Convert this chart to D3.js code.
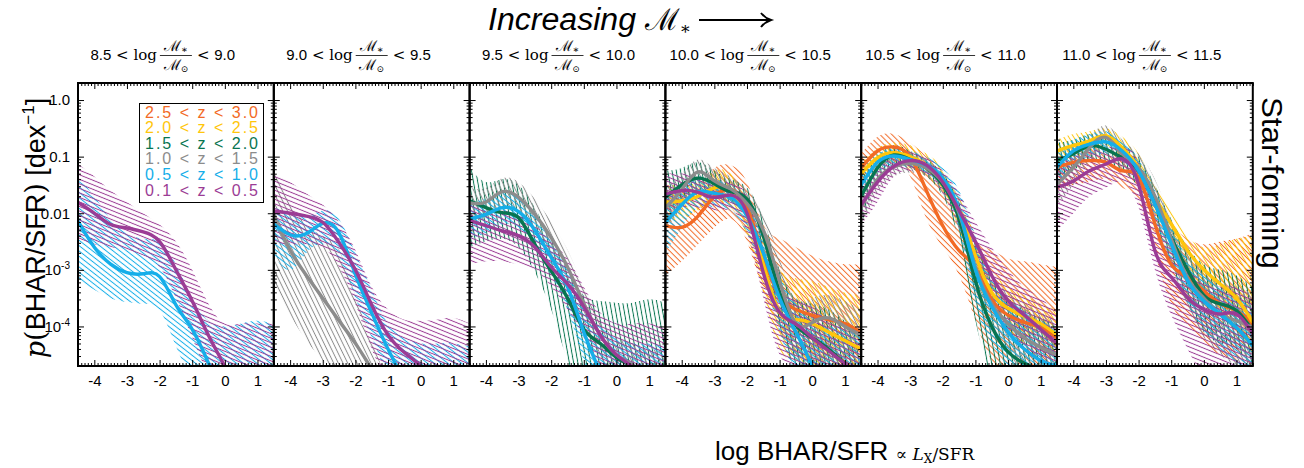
<!DOCTYPE html>
<html lang="en">
<head>
<meta charset="UTF-8">
<script src="https://d3js.org/d3.v7.min.js"></script>
<title>BHAR/SFR distributions</title>
<style>
  body { margin: 0; background: white; }
  svg { display: block; }
  .tick text { font-family: "Liberation Sans", Arial, sans-serif; }
</style>
</head>
<body>
<svg id="chart" width="1304" height="468"></svg>
<script>
// ---- data (log10 p per dex) ----
const logX = [-4.5, -4, -3.5, -3, -2.5, -2, -1.5, -1, -0.5, 0, 0.5, 1, 1.5];
const massBins = [["8.5", "9.0"], ["9.0", "9.5"], ["9.5", "10.0"], ["10.0", "10.5"], ["10.5", "11.0"], ["11.0", "11.5"]];
const zBins = ["2.5 < z < 3.0", "2.0 < z < 2.5", "1.5 < z < 2.0", "1.0 < z < 1.5", "0.5 < z < 1.0", "0.1 < z < 0.5"];
const xTicks = [-4, -3, -2, -1, 0, 1];
const yTicks = [1, 0.1, 0.01, 1e-3, 1e-4];

// z: index into zBins ; mid / lo / hi: log10 p at logX
const panel1 = [
  {z: 4, mid: [-2.14,-2.6,-2.9,-3.05,-3.07,-3.12,-3.62,-4.05,-4.65,-5.3,-5.8,-6.3,-6.8],
         lo:  [-3.2,-3.35,-3.5,-3.57,-3.6,-3.72,-4.35,-5.0,-5.65,-6.3,-6.9,-7.5,-8.1],
         hi:  [-1.35,-1.7,-2.1,-2.35,-2.45,-2.5,-2.9,-3.5,-3.9,-4.0,-3.95,-3.9,-3.95]},
  {z: 5, mid: [-1.81,-2.0,-2.2,-2.26,-2.33,-2.5,-3.0,-3.55,-4.16,-4.71,-5.3,-5.8,-6.3],
         lo:  [-2.45,-2.55,-2.6,-2.65,-2.75,-2.95,-3.5,-4.2,-4.9,-5.6,-6.3,-7.0,-7.7],
         hi:  [-1.13,-1.35,-1.6,-1.8,-2.0,-2.2,-2.5,-3.0,-3.6,-3.95,-3.95,-3.95,-3.95]}
];
const panel2 = [
  {z: 3, mid: [-2.04,-2.65,-3.1,-3.5,-3.9,-4.3,-4.75,-5.2,-5.65,-6.1,-6.55,-7.0,-7.45],
         lo:  [-3.25,-3.8,-4.25,-4.6,-4.9,-5.3,-5.7,-6.1,-6.5,-6.9,-7.3,-7.7,-8.1],
         hi:  [-1.2,-1.8,-2.2,-2.4,-2.65,-3.45,-4.25,-5.0,-5.7,-6.4,-7.1,-7.8,-8.5]},
  {z: 4, mid: [-2.19,-2.38,-2.36,-2.18,-2.35,-3.08,-3.76,-4.4,-4.95,-5.5,-6.05,-6.6,-7.15],
         lo:  [-2.75,-3.0,-2.7,-2.55,-2.8,-3.5,-4.2,-4.9,-5.6,-6.3,-7.0,-7.7,-8.4],
         hi:  [-1.9,-2.0,-2.05,-1.95,-2.1,-2.7,-3.35,-3.95,-4.2,-4.3,-4.3,-4.3,-4.35]},
  {z: 5, mid: [-1.96,-2.0,-2.05,-2.16,-2.52,-3.0,-3.62,-4.15,-4.46,-4.7,-5.0,-5.3,-5.6],
         lo:  [-2.55,-2.55,-2.55,-2.6,-2.95,-3.6,-4.4,-5.0,-5.5,-6.0,-6.5,-7.0,-7.5],
         hi:  [-1.3,-1.45,-1.65,-1.85,-2.15,-2.65,-3.3,-3.7,-3.88,-3.9,-3.88,-3.85,-3.95]}
];
const panel3 = [
  {z: 2, mid: [-1.78,-1.9,-1.99,-2.08,-2.55,-3.02,-3.5,-4.05,-4.3,-4.55,-4.72,-5.0,-5.3],
         lo:  [-2.6,-2.5,-2.45,-2.6,-3.05,-3.7,-4.6,-5.2,-5.6,-6.0,-6.4,-6.8,-7.2],
         hi:  [-1.2,-1.45,-1.4,-1.5,-1.9,-2.45,-3.0,-3.45,-3.55,-3.58,-3.58,-3.52,-3.58]},
  {z: 3, mid: [-1.82,-1.8,-1.62,-1.72,-2.02,-2.43,-2.95,-3.6,-4.15,-4.5,-4.68,-4.9,-5.1],
         lo:  [-2.1,-2.1,-1.9,-2.0,-2.3,-2.75,-3.3,-4.0,-4.6,-5.0,-5.4,-5.8,-6.2],
         hi:  [-1.55,-1.55,-1.38,-1.45,-1.75,-2.15,-2.65,-3.3,-3.9,-4.2,-4.3,-4.4,-4.4]},
  {z: 4, mid: [-2.1,-2.02,-1.9,-1.97,-2.3,-2.78,-3.3,-4.1,-4.8,-5.4,-6.0,-6.6,-7.2],
         lo:  [-2.45,-2.35,-2.2,-2.25,-2.6,-3.1,-3.7,-4.6,-5.3,-6.0,-6.7,-7.4,-8.1],
         hi:  [-1.8,-1.75,-1.65,-1.7,-2.05,-2.5,-3.0,-3.6,-4.0,-4.2,-4.3,-4.3,-4.35]},
  {z: 5, mid: [-2.13,-2.22,-2.31,-2.4,-2.6,-2.95,-3.25,-3.65,-4.15,-4.5,-4.72,-5.0,-5.3],
         lo:  [-2.9,-2.85,-2.85,-2.9,-3.0,-3.3,-3.7,-4.2,-4.8,-5.3,-5.8,-6.3,-6.8],
         hi:  [-1.75,-1.85,-1.95,-2.0,-2.2,-2.5,-2.8,-3.3,-3.75,-3.95,-3.95,-3.95,-4.0]}
];
const panel4 = [
  {z: 0, mid: [-2.22,-2.25,-2.05,-1.7,-1.58,-1.9,-2.75,-3.45,-3.7,-3.8,-3.88,-3.95,-4.1],
         lo:  [-3.1,-2.85,-2.55,-2.25,-2.1,-2.5,-3.4,-4.1,-4.5,-4.6,-4.7,-4.8,-4.9],
         hi:  [-1.6,-1.65,-1.5,-1.2,-1.15,-1.45,-2.2,-2.45,-2.6,-2.75,-2.85,-2.9,-2.9]},
  {z: 1, mid: [-1.81,-1.78,-1.7,-1.55,-1.6,-2.05,-2.9,-3.75,-3.88,-3.95,-4.1,-4.25,-4.4],
         lo:  [-2.15,-2.1,-1.95,-1.8,-1.9,-2.4,-3.4,-4.4,-4.6,-4.7,-4.8,-4.9,-5.0],
         hi:  [-1.5,-1.5,-1.45,-1.25,-1.3,-1.75,-2.45,-3.0,-3.15,-3.2,-3.3,-3.4,-3.45]},
  {z: 2, mid: [-1.72,-1.5,-1.38,-1.48,-1.62,-1.75,-2.4,-3.4,-3.98,-4.2,-4.4,-4.66,-4.9],
         lo:  [-2.2,-1.8,-1.65,-1.7,-1.8,-2.0,-2.8,-4.0,-4.8,-5.3,-5.6,-6.0,-6.4],
         hi:  [-1.25,-1.2,-1.1,-1.25,-1.4,-1.55,-2.1,-3.0,-3.5,-3.6,-3.7,-3.9,-4.1]},
  {z: 3, mid: [-1.9,-1.58,-1.27,-1.43,-1.57,-1.83,-2.3,-3.2,-3.95,-3.93,-3.85,-4.0,-4.15],
         lo:  [-2.3,-1.9,-1.55,-1.7,-1.8,-2.1,-2.7,-3.8,-4.6,-4.7,-4.7,-4.8,-4.9],
         hi:  [-1.55,-1.3,-1.05,-1.2,-1.35,-1.6,-2.0,-2.8,-3.5,-3.5,-3.45,-3.55,-3.7]},
  {z: 4, mid: [-2.16,-1.85,-1.62,-1.65,-1.72,-2.05,-2.7,-3.5,-4.1,-4.7,-5.3,-5.8,-6.3],
         lo:  [-2.7,-2.25,-1.9,-1.9,-1.95,-2.35,-3.1,-4.1,-4.9,-5.5,-6.0,-6.5,-7.0],
         hi:  [-1.7,-1.5,-1.35,-1.4,-1.5,-1.8,-2.4,-3.1,-3.6,-3.9,-4.0,-4.0,-4.1]},
  {z: 5, mid: [-1.66,-1.6,-1.63,-1.72,-1.68,-2.0,-3.05,-3.75,-3.96,-4.2,-4.43,-4.66,-4.9],
         lo:  [-2.0,-1.9,-1.9,-1.95,-1.95,-2.35,-3.5,-4.5,-4.8,-5.1,-5.4,-5.7,-6.0],
         hi:  [-1.3,-1.3,-1.35,-1.45,-1.45,-1.7,-2.6,-3.3,-3.5,-3.65,-3.85,-4.05,-4.2]}
];
const panel5 = [
  {z: 0, mid: [-1.2,-0.9,-0.83,-1.0,-1.6,-2.22,-2.66,-2.97,-3.52,-3.8,-3.93,-4.02,-4.2],
         lo:  [-1.5,-1.2,-1.1,-1.35,-2.1,-2.6,-3.1,-3.9,-4.6,-4.8,-5.0,-5.2,-5.4],
         hi:  [-0.95,-0.65,-0.6,-0.75,-1.0,-1.35,-1.9,-2.45,-2.65,-2.8,-2.85,-2.9,-2.95]},
  {z: 1, mid: [-1.3,-1.02,-0.93,-1.0,-1.15,-1.43,-1.95,-2.75,-3.4,-3.68,-3.82,-3.95,-4.15],
         lo:  [-1.55,-1.2,-1.1,-1.2,-1.35,-1.65,-2.3,-3.1,-3.8,-4.1,-4.3,-4.4,-4.6],
         hi:  [-1.1,-0.85,-0.75,-0.8,-0.95,-1.2,-1.7,-2.4,-3.0,-3.3,-3.45,-3.6,-3.7]},
  {z: 2, mid: [-1.7,-1.2,-0.97,-1.05,-1.2,-1.5,-2.1,-3.2,-4.0,-4.45,-4.65,-4.8,-5.0],
         lo:  [-2.2,-1.45,-1.15,-1.2,-1.35,-1.7,-2.5,-3.9,-4.9,-5.3,-5.6,-6.0,-6.4],
         hi:  [-1.4,-1.0,-0.8,-0.9,-1.05,-1.3,-1.8,-2.5,-3.1,-3.5,-3.7,-3.85,-4.0]},
  {z: 3, mid: [-1.9,-1.4,-1.18,-1.12,-1.2,-1.45,-2.0,-2.95,-3.6,-3.95,-4.2,-4.37,-4.5],
         lo:  [-2.2,-1.65,-1.35,-1.28,-1.35,-1.65,-2.3,-3.4,-4.1,-4.5,-4.8,-5.0,-5.2],
         hi:  [-1.6,-1.2,-1.0,-0.98,-1.05,-1.3,-1.75,-2.5,-3.1,-3.4,-3.6,-3.75,-3.9]},
  {z: 4, mid: [-1.5,-1.1,-0.99,-1.05,-1.15,-1.38,-1.95,-3.0,-3.65,-4.1,-4.4,-4.6,-4.7],
         lo:  [-1.75,-1.3,-1.15,-1.2,-1.3,-1.55,-2.3,-3.6,-4.3,-4.7,-5.0,-5.3,-5.5],
         hi:  [-1.25,-0.95,-0.85,-0.9,-1.0,-1.2,-1.6,-2.4,-3.1,-3.5,-3.7,-3.9,-4.0]},
  {z: 5, mid: [-1.85,-1.45,-1.17,-1.07,-1.15,-1.45,-1.95,-2.5,-3.1,-3.55,-3.8,-4.05,-4.3],
         lo:  [-2.2,-1.8,-1.35,-1.25,-1.3,-1.65,-2.25,-2.85,-3.6,-4.1,-4.35,-4.6,-4.9],
         hi:  [-1.55,-1.2,-0.95,-0.9,-1.0,-1.25,-1.65,-2.15,-2.6,-3.0,-3.3,-3.5,-3.75]}
];
const panel6 = [
  {z: 0, mid: [-1.19,-1.1,-1.07,-1.1,-1.25,-1.37,-2.19,-2.9,-3.13,-3.37,-3.6,-3.72,-3.96],
         lo:  [-1.6,-1.5,-1.45,-1.4,-1.55,-1.8,-2.7,-3.6,-4.0,-4.3,-4.5,-4.6,-4.7],
         hi:  [-0.85,-0.8,-0.8,-0.85,-0.95,-1.1,-1.7,-2.2,-2.45,-2.55,-2.5,-2.45,-2.35]},
  {z: 1, mid: [-0.9,-0.8,-0.72,-0.63,-0.84,-1.19,-1.72,-2.19,-2.66,-3.0,-3.25,-3.5,-3.93],
         lo:  [-1.1,-1.0,-0.9,-0.8,-1.05,-1.45,-2.0,-2.5,-3.0,-3.4,-3.7,-4.0,-4.5],
         hi:  [-0.7,-0.6,-0.55,-0.5,-0.65,-0.95,-1.5,-1.95,-2.4,-2.6,-2.55,-2.45,-2.4]},
  {z: 2, mid: [-1.07,-0.95,-0.81,-0.87,-1.02,-1.25,-1.78,-2.43,-3.0,-3.45,-3.6,-3.72,-4.08],
         lo:  [-1.4,-1.25,-1.05,-1.1,-1.25,-1.55,-2.15,-2.9,-3.6,-4.1,-4.3,-4.4,-4.8],
         hi:  [-0.75,-0.7,-0.6,-0.65,-0.8,-1.0,-1.5,-2.1,-2.6,-2.9,-3.0,-3.1,-3.3]},
  {z: 3, mid: [-1.49,-1.19,-0.84,-0.66,-0.95,-1.2,-1.7,-2.45,-3.15,-3.5,-3.78,-3.9,-4.02],
         lo:  [-1.9,-1.5,-1.1,-0.9,-1.2,-1.5,-2.1,-2.9,-3.7,-4.2,-4.5,-4.7,-4.8],
         hi:  [-1.15,-0.95,-0.65,-0.45,-0.7,-0.95,-1.4,-2.1,-2.7,-3.0,-3.2,-3.3,-3.4]},
  {z: 4, mid: [-1.19,-0.9,-0.78,-0.74,-0.9,-1.25,-1.84,-2.54,-3.19,-3.55,-3.78,-4.02,-4.34],
         lo:  [-1.5,-1.15,-1.0,-0.95,-1.1,-1.5,-2.15,-2.9,-3.6,-4.1,-4.4,-4.7,-5.0],
         hi:  [-0.9,-0.7,-0.6,-0.55,-0.7,-1.05,-1.6,-2.2,-2.8,-3.1,-3.3,-3.45,-3.7]},
  {z: 5, mid: [-1.54,-1.43,-1.25,-1.13,-1.04,-1.49,-2.66,-3.13,-3.49,-3.7,-3.78,-3.78,-4.13],
         lo:  [-2.3,-2.0,-1.7,-1.55,-1.45,-1.9,-3.0,-3.8,-4.4,-4.9,-5.2,-5.5,-5.8],
         hi:  [-1.1,-1.0,-0.9,-0.85,-0.8,-1.1,-2.0,-2.6,-3.0,-3.2,-3.3,-3.3,-3.5]}
];
const panels = [panel1, panel2, panel3, panel4, panel5, panel6];

// ---- styles ----
const zColors = ["#f26a25", "#ffc60b", "#087550", "#8c8c8c", "#15aee9", "#9b3c95"];
const hatchAngle = [45, 58, 80, 64, 38, 22];
const sans = '"Liberation Sans", Arial, sans-serif';
const serif = '"DejaVu Serif", "Liberation Serif", serif';

const svg = d3.select("#chart");
const plotLeft = 78, pw = 195.8, plotTop = 83, plotBottom = 366;

const y = d3.scaleLog().domain([2e-5, 2]).range([plotBottom, plotTop]);
const yMinor = [];
for (let e = -5; e <= 0; e++) for (let k = 2; k <= 9; k++) {
  const v = k * Math.pow(10, e);
  if (v >= 2e-5 && v <= 2) yMinor.push(v);
}
const xMinor = d3.range(-45, 16).map(d => d / 10).filter(d => !xTicks.includes(d));

// hatch patterns
const defs = svg.append("defs");
zColors.forEach((c, i) => {
  const s = 4.2;
  const p = defs.append("pattern")
    .attr("id", "hatch" + i)
    .attr("patternUnits", "userSpaceOnUse")
    .attr("width", s).attr("height", s)
    .attr("patternTransform", `rotate(${hatchAngle[i]})`);
  p.append("line")
    .attr("x1", 0).attr("x2", s)
    .attr("y1", s / 2).attr("y2", s / 2)
    .attr("stroke", c).attr("stroke-width", 1);
});

panels.forEach((series, pi) => {
  const x0 = plotLeft + pi * pw;
  const x = d3.scaleLinear().domain([-4.5, 1.5]).range([x0, x0 + pw]);

  defs.append("clipPath").attr("id", "clip" + pi)
    .append("rect").attr("x", x0).attr("y", plotTop).attr("width", pw).attr("height", plotBottom - plotTop);

  const g = svg.append("g").attr("clip-path", `url(#clip${pi})`);

  const area = d3.area()
    .x(d => x(d[0]))
    .y0(d => y(Math.pow(10, d[1])))
    .y1(d => y(Math.pow(10, d[2])))
    .curve(d3.curveNatural);
  const line = d3.line()
    .x(d => x(d[0]))
    .y(d => y(Math.pow(10, d[1])))
    .curve(d3.curveNatural);

  g.selectAll("path.band").data(series).enter().append("path")
    .attr("class", "band")
    .attr("d", d => area(logX.map((v, i) => [v, d.lo[i], d.hi[i]])))
    .attr("fill", d => `url(#hatch${d.z})`);

  g.selectAll("path.mid").data(series).enter().append("path")
    .attr("class", "mid")
    .attr("d", d => line(logX.map((v, i) => [v, d.mid[i]])))
    .attr("fill", "none")
    .attr("stroke", d => zColors[d.z])
    .attr("stroke-width", 3.4);

  // inward ticks on all four sides
  const addAxis = (axis, tr) => {
    const a = svg.append("g").attr("transform", tr).call(axis);
    a.select(".domain").remove();
    a.selectAll("line").attr("stroke", "black").attr("stroke-width", 1);
    return a;
  };
  addAxis(d3.axisBottom(x).tickValues(xMinor).tickSize(-3).tickFormat(""), `translate(0,${plotBottom})`);
  addAxis(d3.axisTop(x).tickValues(xMinor).tickSize(-3).tickFormat(""), `translate(0,${plotTop})`);
  addAxis(d3.axisTop(x).tickValues(xTicks).tickSize(-6).tickFormat(""), `translate(0,${plotTop})`);
  const xa = addAxis(d3.axisBottom(x).tickValues(xTicks).tickSize(-6).tickPadding(9).tickFormat(d3.format("d")), `translate(0,${plotBottom})`);
  xa.selectAll("text").attr("font-size", 15).attr("fill", "black")
    .text(d => d < 0 ? "-" + Math.abs(d) : d);

  addAxis(d3.axisLeft(y).tickValues(yMinor).tickSize(-3).tickFormat(""), `translate(${x0},0)`);
  addAxis(d3.axisRight(y).tickValues(yMinor).tickSize(-3).tickFormat(""), `translate(${x0 + pw},0)`);
  addAxis(d3.axisRight(y).tickValues(yTicks).tickSize(-6).tickFormat(""), `translate(${x0 + pw},0)`);
  const ya = addAxis(d3.axisLeft(y).tickValues(yTicks).tickSize(-6).tickPadding(8)
    .tickFormat(pi === 0 ? (d => d >= 0.01 ? (d === 1 ? "1.0" : String(d)) : "10") : ""), `translate(${x0},0)`);
  if (pi === 0) {
    ya.selectAll("text").attr("font-size", 15).attr("fill", "black")
      .filter(d => d < 0.01)
      .append("tspan").attr("dy", -6).attr("font-size", 10)
      .text(d => "-" + Math.round(-Math.log10(d)));
  }

  svg.append("rect")
    .attr("x", x0).attr("y", plotTop).attr("width", pw).attr("height", plotBottom - plotTop)
    .attr("fill", "none").attr("stroke", "black").attr("stroke-width", 2);

  // mass-bin header
  const cx = x0 + pw / 2;
  const hd = svg.append("g").attr("fill", "black");
  const lt = hd.append("text").attr("x", cx - 19).attr("y", 60).attr("text-anchor", "end").attr("font-size", 15);
  lt.append("tspan").attr("font-family", sans).text(massBins[pi][0]);
  lt.append("tspan").attr("font-family", serif).text(" < log");
  const rt = hd.append("text").attr("x", cx + 21).attr("y", 60).attr("font-size", 15);
  rt.append("tspan").attr("font-family", serif).text("< ");
  rt.append("tspan").attr("font-family", sans).text(massBins[pi][1]);
  const num = hd.append("text").attr("x", cx).attr("y", 51).attr("text-anchor", "middle")
    .attr("font-family", serif).attr("font-size", 15);
  num.append("tspan").text("\u2133");
  num.append("tspan").attr("font-size", 10).attr("dy", 2).text("\u2217");
  hd.append("line").attr("x1", cx - 16).attr("x2", cx + 16).attr("y1", 55.5).attr("y2", 55.5)
    .attr("stroke", "black").attr("stroke-width", 0.8);
  const den = hd.append("text").attr("x", cx).attr("y", 70).attr("text-anchor", "middle")
    .attr("font-family", serif).attr("font-size", 15);
  den.append("tspan").text("\u2133");
  den.append("tspan").attr("font-size", 9).attr("dy", 2).text("\u2299");
});

// legend
const lg = svg.append("g");
lg.append("rect").attr("x", 139.5).attr("y", 103.5).attr("width", 124).attr("height", 99)
  .attr("fill", "white").attr("stroke", "black").attr("stroke-width", 1);
lg.selectAll("text").data(zBins).enter().append("text")
  .attr("x", 145).attr("y", (d, i) => 117.5 + i * 15.6)
  .attr("font-family", sans).attr("font-size", 16)
  .attr("textLength", 113).attr("lengthAdjust", "spacing")
  .attr("fill", (d, i) => zColors[i])
  .text(d => d);

// title
const tt = svg.append("text").attr("x", 488).attr("y", 30).attr("font-family", sans).attr("font-size", 31);
tt.append("tspan").attr("font-style", "italic")
  .attr("textLength", 148).attr("lengthAdjust", "spacingAndGlyphs").text("Increasing");
tt.append("tspan").text(" ");
tt.append("tspan").attr("font-family", serif).attr("font-size", 30).text("\u2133");
tt.append("tspan").attr("font-family", serif).attr("font-size", 17).attr("dy", 4).text("\u2217");
svg.append("line").attr("x1", 699).attr("x2", 770).attr("y1", 20).attr("y2", 20)
  .attr("stroke", "black").attr("stroke-width", 2);
svg.append("path").attr("d", "M761,13 Q765,18 771,20 Q765,22 761,27")
  .attr("fill", "none").attr("stroke", "black").attr("stroke-width", 2);

// y label
const yl = svg.append("text").attr("transform", "translate(45,228) rotate(-90)")
  .attr("text-anchor", "middle").attr("font-family", sans).attr("font-size", 27);
yl.append("tspan").attr("font-family", serif).attr("font-style", "italic").text("p");
yl.append("tspan").attr("font-family", serif).text("(");
yl.append("tspan").text("BHAR/SFR");
yl.append("tspan").attr("font-family", serif).text(")");
yl.append("tspan").text(" [dex");
yl.append("tspan").attr("font-size", 17).attr("dy", -11).text("\u22121");
yl.append("tspan").attr("dy", 11).text("]");

// right label
svg.append("text").attr("transform", "translate(1262,97) rotate(90)")
  .attr("font-family", sans).attr("font-size", 30)
  .attr("textLength", 172).attr("lengthAdjust", "spacingAndGlyphs")
  .text("Star-forming");

// x label
const xl = svg.append("text").attr("x", 715).attr("y", 460).attr("font-family", sans).attr("font-size", 26);
xl.append("tspan").text("log BHAR/SFR ");
xl.append("tspan").attr("font-family", serif).attr("font-size", 17).text("\u221D ");
xl.append("tspan").attr("font-family", serif).attr("font-size", 17).attr("font-style", "italic").text("L");
xl.append("tspan").attr("font-family", serif).attr("font-size", 12).attr("dy", 3).text("X");
xl.append("tspan").attr("font-family", serif).attr("font-size", 17).attr("dy", -3).text("/SFR");
</script>
</body>
</html>
